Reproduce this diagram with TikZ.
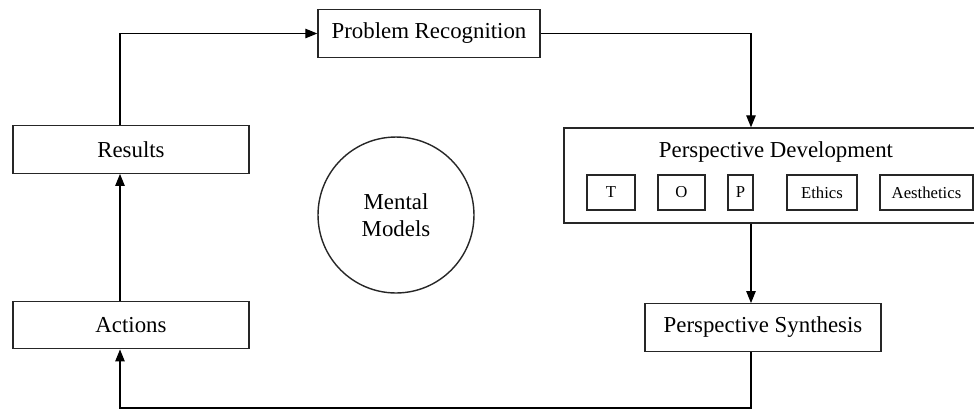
\documentclass[tikz,border=0pt]{standalone}
\usepackage{fontspec}
\setmainfont{Liberation Serif}
\usetikzlibrary{arrows.meta, positioning, calc}

\begin{document}
\begin{tikzpicture}[
  x=0.02cm, y=-0.02cm,
  every node/.style = {
    align=center,
    inner sep=0pt,
    font=\fontsize{13}{15.5}\selectfont
  },
  box/.style = {draw=black!85, line width=0.8pt, minimum width=4.72cm, minimum height=0.95cm},
  bigbox/.style = {draw=black!85, line width=0.8pt, minimum width=8.52cm, minimum height=1.9cm},
  subbox/.style = {draw=black!85, line width=0.7pt, minimum height=0.7cm,
                   font=\fontsize{9.5}{11}\selectfont},
  arrow/.style = {-{Triangle[length=2.4mm, width=1.9mm]}, line width=0.6pt}
]
\useasboundingbox (0,0) rectangle (974,410);

% Top: problem recognition
\node[box, minimum width=4.44cm] (PR) at (429,33.5) {Problem Recognition};

% Left column
\node[box] (Results) at (131,149.5) {Results};
\node[box] (Actions) at (131,325) {Actions};

% Centre
\node[draw=black!85, line width=0.8pt, circle, minimum size=3.12cm] (MM) at (396,215) {Mental\\Models};

% Right column
\node[bigbox] (PD) at (777,175.5) {};
\node (PDtitle) at (776,152) {Perspective Development};
\node[subbox, minimum width=0.96cm] (T) at (611,192.5) {T};
\node[subbox, minimum width=0.94cm] (O) at (681.5,192.5) {O};
\node[subbox, minimum width=0.5cm] (P) at (740.5,192.5) {P};
\node[subbox, minimum width=1.4cm] (Eth) at (822,192.5) {Ethics};
\node[subbox, minimum width=1.86cm] (Aes) at (926.5,192.5) {Aesthetics};

\node[box] (PS) at (763,327.5) {Perspective Synthesis};

% === ARROWS ===
\coordinate (leftX) at (120,0);
\coordinate (rightX) at (751,0);
\coordinate (floor) at (0,408);

\draw[arrow] (Actions.north -| leftX) -- (Results.south -| leftX);
\draw[arrow] (Results.north -| leftX) |- (PR.west);
\draw[arrow] (PR.east) -| (PD.north -| rightX);
\draw[arrow] (PD.south -| rightX) -- (PS.north -| rightX);
\draw[arrow] (PS.south -| rightX) -- (rightX |- floor) -| (Actions.south -| leftX);

\end{tikzpicture}
\end{document}
